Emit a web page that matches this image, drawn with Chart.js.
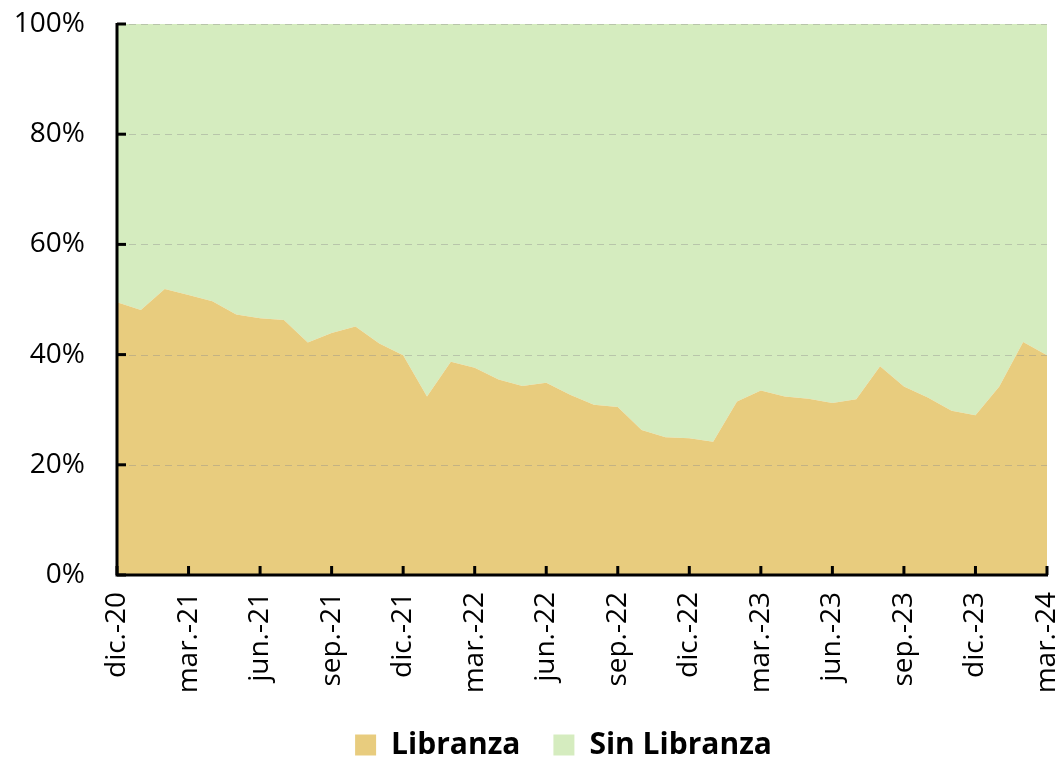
<!DOCTYPE html>
<html lang="es">
<head>
<meta charset="utf-8">
<title>Libranza vs Sin Libranza</title>
<script src="https://cdn.jsdelivr.net/npm/chart.js@4.4.1/dist/chart.umd.min.js"></script>
<style>
  html, body { margin: 0; padding: 0; background: #fff; }
  #wrap { width: 1061px; height: 759px; }
</style>
</head>
<body>
<div id="wrap"><canvas id="chart-libranza" width="1061" height="759"></canvas></div>
<script>
// meses dic.-20 .. mar.-24
const months = [
  "dic.-20", "ene.-21", "feb.-21", "mar.-21", "abr.-21", "may.-21", "jun.-21", "jul.-21",
  "ago.-21", "sep.-21", "oct.-21", "nov.-21", "dic.-21", "ene.-22", "feb.-22", "mar.-22",
  "abr.-22", "may.-22", "jun.-22", "jul.-22", "ago.-22", "sep.-22", "oct.-22", "nov.-22",
  "dic.-22", "ene.-23", "feb.-23", "mar.-23", "abr.-23", "may.-23", "jun.-23", "jul.-23",
  "ago.-23", "sep.-23", "oct.-23", "nov.-23", "dic.-23", "ene.-24", "feb.-24", "mar.-24"
];

// participación (%) de cada grupo
const libranza = [
  49.5, 48.1, 51.9, 50.8, 49.7, 47.3, 46.6, 46.3, 42.2, 43.9,
  45.1, 42.0, 39.9, 32.4, 38.7, 37.6, 35.5, 34.3, 34.9, 32.7,
  30.9, 30.5, 26.3, 25.0, 24.8, 24.2, 31.5, 33.5, 32.4, 32.0,
  31.2, 31.9, 37.9, 34.2, 32.2, 29.8, 29.0, 34.2, 42.3, 39.9
];
const sinLibranza = [
  50.5, 51.9, 48.1, 49.2, 50.3, 52.7, 53.4, 53.7, 57.8, 56.1,
  54.9, 58.0, 60.1, 67.6, 61.3, 62.4, 64.5, 65.7, 65.1, 67.3,
  69.1, 69.5, 73.7, 75.0, 75.2, 75.8, 68.5, 66.5, 67.6, 68.0,
  68.8, 68.1, 62.1, 65.8, 67.8, 70.2, 71.0, 65.8, 57.7, 60.1
];

const yTicks = [0, 20, 40, 60, 80, 100];
const labelEvery = 3;

const FONT = "'Open Sans', 'Liberation Sans', sans-serif";

// ejes negros, marcas hacia adentro y rejilla punteada encima de las áreas
const frame = {
  id: "frame",
  afterLayout(chart) {
    // leyenda un poco corrida a la derecha, bajo el área del gráfico
    const lg = chart.legend;
    if (lg) { lg.left += 40; lg.right += 40; }
  },
  afterDatasetsDraw(chart) {
    const { ctx, chartArea: a, scales: { x, y } } = chart;
    ctx.save();
    ctx.setLineDash([7, 5]);
    ctx.strokeStyle = "rgba(140,140,140,0.4)";
    ctx.lineWidth = 1;
    yTicks.forEach(v => {
      if (v === 0) { return; }
      const py = Math.round(y.getPixelForValue(v)) + 0.5;
      ctx.beginPath();
      ctx.moveTo(a.left, py);
      ctx.lineTo(a.right, py);
      ctx.stroke();
    });
    ctx.setLineDash([]);
    ctx.strokeStyle = "#000";
    ctx.lineWidth = 3;
    ctx.beginPath();
    ctx.moveTo(a.left, a.top - 1);
    ctx.lineTo(a.left, a.bottom);
    ctx.lineTo(a.right + 1, a.bottom);
    ctx.stroke();
    yTicks.forEach(v => {
      const py = y.getPixelForValue(v);
      ctx.beginPath();
      ctx.moveTo(a.left, py);
      ctx.lineTo(a.left + 9, py);
      ctx.stroke();
    });
    months.forEach((m, i) => {
      if (i % labelEvery !== 0) { return; }
      const px = x.getPixelForValue(i);
      ctx.beginPath();
      ctx.moveTo(px, a.bottom);
      ctx.lineTo(px, a.bottom - 9);
      ctx.stroke();
    });
    ctx.restore();
  }
};

new Chart(document.getElementById("chart-libranza"), {
  type: "line",
  data: {
    labels: months,
    datasets: [
      {
        label: "Libranza",
        data: libranza,
        backgroundColor: "#E8CC7E",
        borderColor: "#E8CC7E",
        borderWidth: 0,
        fill: "origin",
        pointRadius: 0,
        tension: 0,
      },
      {
        label: "Sin Libranza",
        data: sinLibranza,
        backgroundColor: "#D5ECBF",
        borderColor: "#D5ECBF",
        borderWidth: 0,
        fill: "-1",
        pointRadius: 0,
        tension: 0,
      },
    ],
  },
  options: {
    responsive: false,
    animation: false,
    layout: { padding: { left: 0, right: 14, top: 24, bottom: -11 } },
    plugins: {
      tooltip: { enabled: false },
      legend: {
        position: "bottom",
        labels: {
          color: "#000",
          font: { family: FONT, size: 30, weight: "bold" },
          boxWidth: 21,
          boxHeight: 21,
          padding: 33,
        },
      },
    },
    scales: {
      x: {
        type: "category",
        offset: false,
        grid: { display: false, drawTicks: false },
        border: { display: false },
        ticks: {
          autoSkip: false,
          maxRotation: 90,
          minRotation: 90,
          padding: 17,
          color: "#000",
          font: { family: FONT, size: 28 },
          callback: (v, i) => (i % labelEvery === 0 ? months[i] : ""),
        },
        afterFit(scale) {
          scale.height = 122;
          scale.paddingLeft = 0;
          scale.paddingRight = 0;
        },
      },
      y: {
        stacked: true,
        min: 0,
        max: 100,
        grid: { display: false, drawTicks: false },
        border: { display: false },
        ticks: {
          stepSize: 20,
          padding: 32,
          color: "#000",
          font: { family: FONT, size: 28 },
          callback: v => v + "%",
        },
        afterFit(scale) {
          scale.width = 117;
          scale.paddingTop = 0;
          scale.paddingBottom = 0;
        },
      },
    },
  },
  plugins: [frame],
});
</script>
</body>
</html>
